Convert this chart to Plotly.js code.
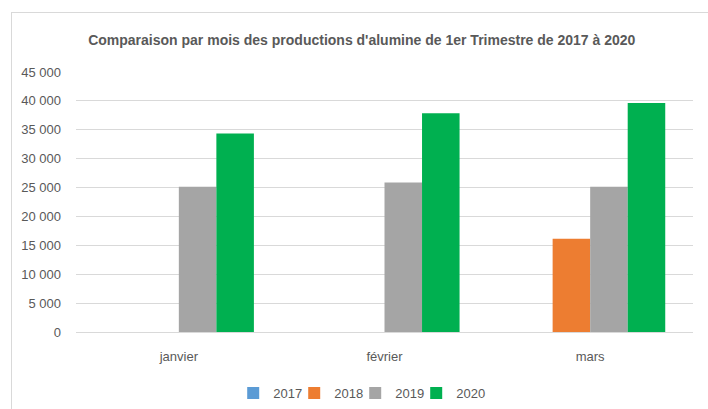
<!DOCTYPE html>
<html><head><meta charset="utf-8">
<script src="https://cdn.plot.ly/plotly-3.0.1.min.js"></script>
<style>html,body{margin:0;padding:0;background:#fff;}#wrap{position:relative;width:708px;height:409px;}#chart{width:708px;height:409px;}
#frame{position:absolute;left:11px;top:12px;width:697px;height:397px;border-top:1px solid #d9d9d9;border-left:1px solid #d9d9d9;pointer-events:none;}</style>
</head><body><div id="wrap"><div id="chart"></div><div id="frame"></div></div>
<script>
const months = ["janvier", "février", "mars"];
const years = ["2017", "2018", "2019", "2020"];
const v2017 = [null, null, null];
const v2018 = [null, null, 16130];
const v2019 = [25130, 25870, 25130];
const v2020 = [34350, 37870, 39650];
const yTicks = [0, 5000, 10000, 15000, 20000, 25000, 30000, 35000, 40000, 45000];
const colors = ["#5B9BD5", "#ED7D31", "#A5A5A5", "#00B050"];
const series = [v2017, v2018, v2019, v2020];

const traces = series.map((vals, i) => {
  const t = {
    type: "bar", name: years[i], x: months, y: vals,
    marker: {color: colors[i], line: {width: 0}},
    hoverinfo: "x+y+name"
  };
  if (i === series.length - 1) t.legendwidth = 32;
  return t;
});
const font = "'Liberation Sans', Arial, sans-serif";
const layout = {
  width: 708, height: 409,
  margin: {l: 76, r: 15, t: 72, b: 77},
  paper_bgcolor: "#fff", plot_bgcolor: "#fff",
  barmode: "group", bargap: 0.27, bargroupgap: 0,
  separators: ", ",
  font: {family: font, size: 13, color: "#595959"},
  title: {text: "<b>Comparaison par mois des productions d'alumine de 1er Trimestre de 2017 à 2020</b>",
    font: {family: font, size: 14, color: "#595959"},
    x: 0.511, xref: "container", xanchor: "center", y: 0.902, yref: "container", yanchor: "middle"},
  xaxis: {showline: false, ticks: "", ticklabelstandoff: 15, tickfont: {size: 13, color: "#595959"}, showgrid: false},
  yaxis: {range: [0, 45000], tickvals: yTicks, tickformat: ",d", showline: false, ticks: "",
    gridcolor: "#d9d9d9", gridwidth: 1, zeroline: true, zerolinecolor: "#d9d9d9", zerolinewidth: 1,
    ticklabelstandoff: 14, tickfont: {size: 13, color: "#595959"}},
  showlegend: true,
  legend: {orientation: "h", x: 0.513, xref: "container", xanchor: "center", y: 0.039, yref: "container", yanchor: "middle",
    font: {size: 13, color: "#595959"}, itemwidth: 30, entrywidth: 16, entrywidthmode: "pixels", tracegroupgap: 0, traceorder: "normal"}
};
Plotly.newPlot("chart", traces, layout, {displayModeBar: false, staticPlot: true});
</script></body></html>
